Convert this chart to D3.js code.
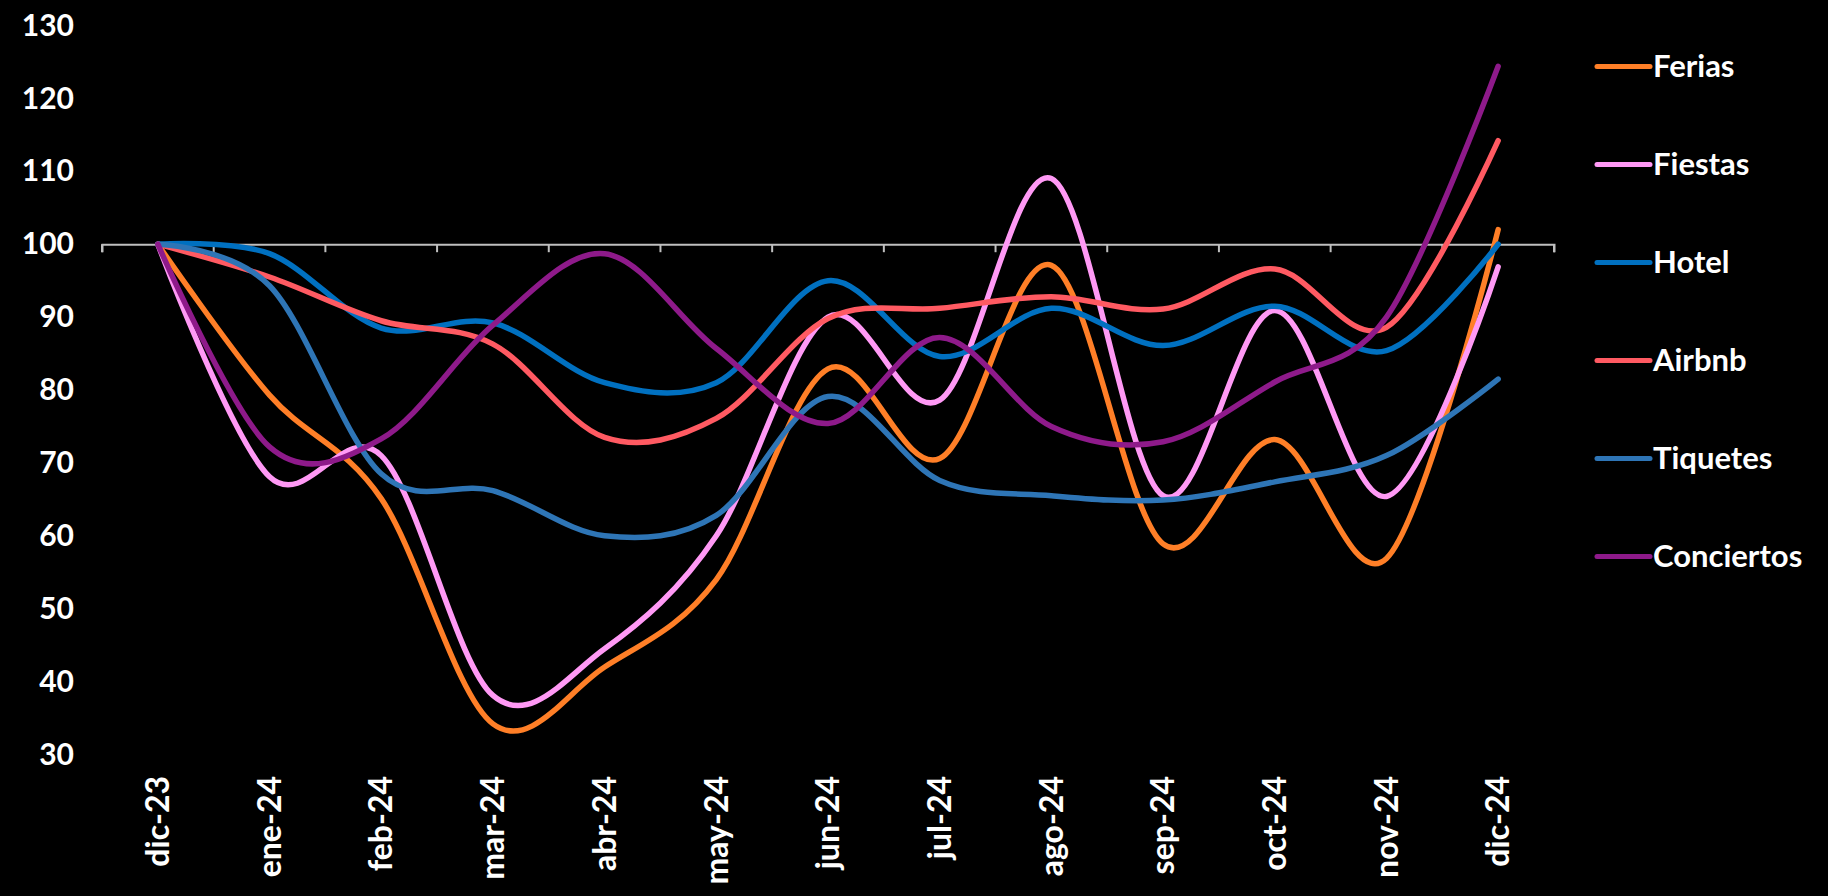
<!DOCTYPE html>
<html>
<head>
<meta charset="utf-8">
<script src="https://cdn.jsdelivr.net/npm/d3@7"></script>
<style>
  body { margin: 0; background: #000; }
  text { font-family: Lato, "Noto Sans", sans-serif; font-weight: 700; fill: #fff; }
</style>
</head>
<body>
<div id="chart"></div>
<script>
// Data

var months = ["dic-23", "ene-24", "feb-24", "mar-24", "abr-24", "may-24", "jun-24",
              "jul-24", "ago-24", "sep-24", "oct-24", "nov-24", "dic-24"];

var ferias     = [100, 79.3, 65.1, 34.2, 42.0, 54.0, 82.9, 70.6, 97.1, 58.9, 73.2, 56.9, 102.0];
var fiestas    = [100, 68.1, 71.0, 38.1, 44.5, 60.0, 90.0, 78.6, 109.0, 65.5, 90.9, 65.4, 96.9];
var hotel      = [100, 98.7, 88.5, 89.2, 81.0, 81.0, 95.0, 84.6, 91.2, 86.1, 91.5, 85.4, 100.0];
var airbnb     = [100, 95.5, 89.5, 86.3, 73.5, 76.1, 89.8, 91.2, 92.8, 91.1, 96.6, 88.6, 114.2];
var tiquetes   = [100, 94.3, 68.5, 66.2, 60.0, 62.8, 79.1, 67.6, 65.5, 64.9, 67.4, 71.0, 81.5];
var conciertos = [100, 72.2, 73.3, 88.9, 98.7, 85.7, 75.4, 87.2, 75.0, 72.9, 81.1, 90.0, 124.4];

var yTicks = [30, 40, 50, 60, 70, 80, 90, 100, 110, 120, 130];

var series = [
  {name: "Ferias", values: ferias, color: "#ff7f27"},
  {name: "Fiestas", values: fiestas, color: "#ff99f5"},
  {name: "Hotel", values: hotel, color: "#0070c0"},
  {name: "Airbnb", values: airbnb, color: "#ff5a62"},
  {name: "Tiquetes", values: tiquetes, color: "#2e75b6"},
  {name: "Conciertos", values: conciertos, color: "#8e1a8a"}
];

// Svg

var width = 1828;
var height = 896;

var svg = d3.select("#chart")
  .append("svg")
  .attr("width", width)
  .attr("height", height)
  .style("background", "#000");

// Scales

var xScale = d3.scaleBand()
    .domain(months)
    .range([102, 1554]);

var yScale = d3.scaleLinear()
    .domain([30, 130])
    .range([754.5, 25.5]);

var xPos = function(i) { return xScale(months[i]) + xScale.bandwidth() / 2; };

// Y labels (no axis line)

var yAxis = svg.append("g")
    .attr("transform", "translate(74, 0)")
    .call(d3.axisLeft(yScale).tickValues(yTicks).tickSize(0).tickPadding(0));
yAxis.select(".domain").remove();
yAxis.selectAll("text")
    .attr("font-size", 30)
    .attr("fill", "#fff")
    .style("font-family", "Lato, sans-serif")
    .style("font-weight", 700);

// Horizontal axis crosses at 100

var xAxis = svg.append("g")
    .attr("transform", `translate(0, ${yScale(100)})`)
    .call(d3.axisBottom(xScale).tickSize(8).tickSizeOuter(8).tickFormat(""));
xAxis.select(".domain").attr("stroke", "#bfbfbf").attr("stroke-width", 2);
xAxis.selectAll(".tick line").attr("stroke", "#bfbfbf").attr("stroke-width", 2)
    .attr("transform", `translate(${-xScale.bandwidth() / 2}, 0)`);
// closing tick at the right end
xAxis.append("line")
    .attr("x1", 1554).attr("x2", 1554)
    .attr("y1", 0).attr("y2", 8)
    .attr("stroke", "#bfbfbf").attr("stroke-width", 2);

// Month labels at the bottom

svg.append("g").selectAll("text")
  .data(months)
  .enter().append("text")
    .attr("transform", (d, i) => `translate(${xPos(i)}, 776) rotate(-90)`)
    .attr("text-anchor", "end")
    .attr("dy", "0.35em")
    .attr("font-size", 32)
    .text(d => d);

// Lines

var line = d3.line()
    .x((d, i) => xPos(i))
    .y(d => yScale(d))
    .curve(d3.curveCardinal.tension(0));

svg.append("g").selectAll("path")
  .data(series)
  .enter().append("path")
    .attr("d", d => line(d.values))
    .attr("fill", "none")
    .attr("stroke", d => d.color)
    .attr("stroke-width", 5.5)
    .attr("stroke-linecap", "round")
    .attr("stroke-linejoin", "round");

// Legend

var legend = svg.append("g").selectAll(".legend")
  .data(series)
  .enter().append("g")
    .attr("class", "legend")
    .attr("transform", (d, i) => `translate(1597, ${66.5 + i * 98})`);

legend.append("line")
    .attr("x1", 0).attr("x2", 53)
    .attr("stroke", d => d.color)
    .attr("stroke-width", 5)
    .attr("stroke-linecap", "round");

legend.append("text")
    .attr("x", 56)
    .attr("dy", "0.35em")
    .attr("font-size", 31)
    .text(d => d.name);
</script>
</body>
</html>
